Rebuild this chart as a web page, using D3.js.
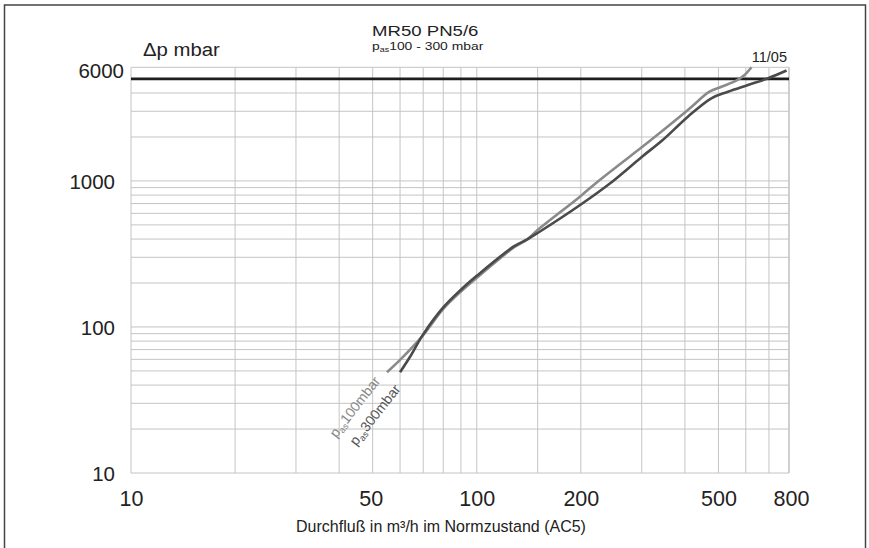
<!DOCTYPE html>
<html>
<head>
<meta charset="utf-8">
<script src="https://cdn.jsdelivr.net/npm/d3@7/dist/d3.min.js"></script>
<style>
  html, body { margin: 0; padding: 0; background: #fff; }
  svg { display: block; font-family: "Liberation Sans", Arial, Helvetica, sans-serif; }
</style>
</head>
<body>
<svg id="chart" width="869" height="548"></svg>
<script>
// ---- data ----
const xGridValues = [10, 20, 30, 40, 50, 60, 70, 80, 90, 100, 150, 200, 300, 400, 500, 600, 700, 800];
const yGridValues = [10, 20, 30, 40, 50, 60, 70, 80, 90, 100, 200, 300, 400, 500, 600, 700, 800, 900, 1000, 2000, 3000, 4000, 5000, 6000];
const xTickLabels = [10, 50, 100, 200, 500, 800];
const yTickLabels = [10, 100, 1000, 6000];
const limitValue = 5000;

// p_as 100 mbar (light grey)
const flow100 = [55, 60, 70, 80, 90, 100, 128, 140, 150, 200, 225, 300, 319, 408, 471, 510, 563, 595, 623];
const dp100   = [49, 59.5, 88, 133, 175, 217, 350, 398, 461, 790, 1000, 1700, 1906, 3060, 4083, 4418, 4856, 5311, 6000];

// p_as 300 mbar (dark grey)
const flow300 = [60, 64, 70, 80, 90, 100, 128, 140, 150, 200, 248, 300, 345, 408, 477, 533, 609, 696, 787];
const dp300   = [49, 62, 89, 136, 180, 224, 356, 398, 440, 690, 1000, 1460, 1906, 2754, 3680, 4083, 4538, 5045, 5700];

const svg = d3.select("#chart");

// outer frame
svg.append("rect")
  .attr("x", 4.5).attr("y", 5).attr("width", 861).attr("height", 570)
  .attr("fill", "none").attr("stroke", "#444").attr("stroke-width", 1.5);

const x = d3.scaleLog().domain([10, 800]).range([131, 789]);
const y = d3.scaleLog().domain([10, 6000]).range([473, 67.3]);

// grid
const grid = svg.append("g");
grid.selectAll("line.v").data(xGridValues).join("line")
  .attr("class", "v")
  .attr("x1", d => x(d)).attr("x2", d => x(d))
  .attr("y1", y(10)).attr("y2", y(6000))
  .attr("stroke", "#c4c4c4").attr("stroke-width", d => (d === 800 ? 1.6 : 1));
grid.selectAll("line.h").data(yGridValues).join("line")
  .attr("class", "h")
  .attr("x1", x(10)).attr("x2", x(800))
  .attr("y1", d => y(d)).attr("y2", d => y(d))
  .attr("stroke", "#c4c4c4").attr("stroke-width", 1);

// limit line
svg.append("line")
  .attr("x1", x(10)).attr("x2", x(800))
  .attr("y1", y(limitValue)).attr("y2", y(limitValue))
  .attr("stroke", "#1e1e1e").attr("stroke-width", 2.6);

// curves
const line = d3.line().curve(d3.curveCatmullRom.alpha(0.5));
const pts100 = flow100.map((f, i) => [x(f), y(dp100[i])]);
const pts300 = flow300.map((f, i) => [x(f), y(dp300[i])]);
svg.append("path").attr("d", line(pts100))
  .attr("fill", "none").attr("stroke", "#8a8a8a").attr("stroke-width", 2.6);
svg.append("path").attr("d", line(pts300))
  .attr("fill", "none").attr("stroke", "#4a4a4a").attr("stroke-width", 2.6);

// axes labels (via d3 axes)
const yAxis = svg.append("g").attr("transform", "translate(131,0)")
  .call(d3.axisLeft(y).tickValues(yTickLabels).tickSize(0).tickPadding(16).tickFormat(d3.format("d")));
yAxis.select(".domain").remove();
yAxis.selectAll("text")
  .attr("font-family", "'Liberation Sans', Arial, sans-serif")
  .attr("font-size", 20.5).attr("fill", "#222")
  .attr("dy", "0.36em")
  .attr("x", d => (d === 6000 ? -7 : -16))
  .attr("transform", d => (d === 6000 ? "translate(0,3)" : null));

const xAxis = svg.append("g").attr("transform", "translate(0,473)")
  .call(d3.axisBottom(x).tickValues(xTickLabels).tickSize(0).tickPadding(0).tickFormat(d3.format("d")));
xAxis.select(".domain").remove();
xAxis.selectAll("text")
  .attr("font-family", "'Liberation Sans', Arial, sans-serif")
  .attr("font-size", 21.5).attr("fill", "#222")
  .attr("y", 33).attr("dy", 0)
  .attr("dx", d => (d === 800 ? 2 : d === 50 ? -2 : 0));

// x axis title
svg.append("text")
  .attr("x", 441).attr("y", 532)
  .attr("text-anchor", "middle")
  .attr("font-size", 16.5).attr("fill", "#222")
  .attr("transform", "translate(441,0) scale(0.97,1) translate(-441,0)")
  .text("Durchfluß in m³/h im Normzustand (AC5)");

// y axis title
svg.append("text")
  .attr("transform", "translate(143,56) scale(1.13,1)")
  .attr("font-size", 18).attr("fill", "#222")
  .text("Δp mbar");

// title
svg.append("text")
  .attr("transform", "translate(372,36) scale(1.2,1)")
  .attr("font-size", 15.5).attr("fill", "#222")
  .text("MR50 PN5/6");

// subtitle with subscript
const sub = svg.append("text")
  .attr("transform", "translate(372,50) scale(1.24,1)")
  .attr("font-size", 11.2).attr("fill", "#222");
sub.append("tspan").text("p");
sub.append("tspan").attr("font-size", 7.2).attr("dy", 2).text("as");
sub.append("tspan").attr("dy", -2).text("100 - 300 mbar");

// date
svg.append("text")
  .attr("x", 787).attr("y", 61.5)
  .attr("text-anchor", "end")
  .attr("font-size", 14.5).attr("fill", "#222")
  .text("11/05");

// rotated curve labels
function curveLabel(px, py, value, color) {
  const t = svg.append("text")
    .attr("transform", `translate(${px},${py}) rotate(-52)`)
    .attr("text-anchor", "end")
    .attr("font-size", 14).attr("fill", color);
  t.append("tspan").text("p");
  t.append("tspan").attr("font-size", 9).attr("dy", 2.5).text("as");
  t.append("tspan").attr("dy", -2.5).text(value + "mbar");
}
curveLabel(x(flow100[0]) - 6, y(dp100[0]) + 9, 100, "#888");
curveLabel(x(flow300[0]) + 1, y(dp300[0]) + 17, 300, "#555");
</script>
</body>
</html>
